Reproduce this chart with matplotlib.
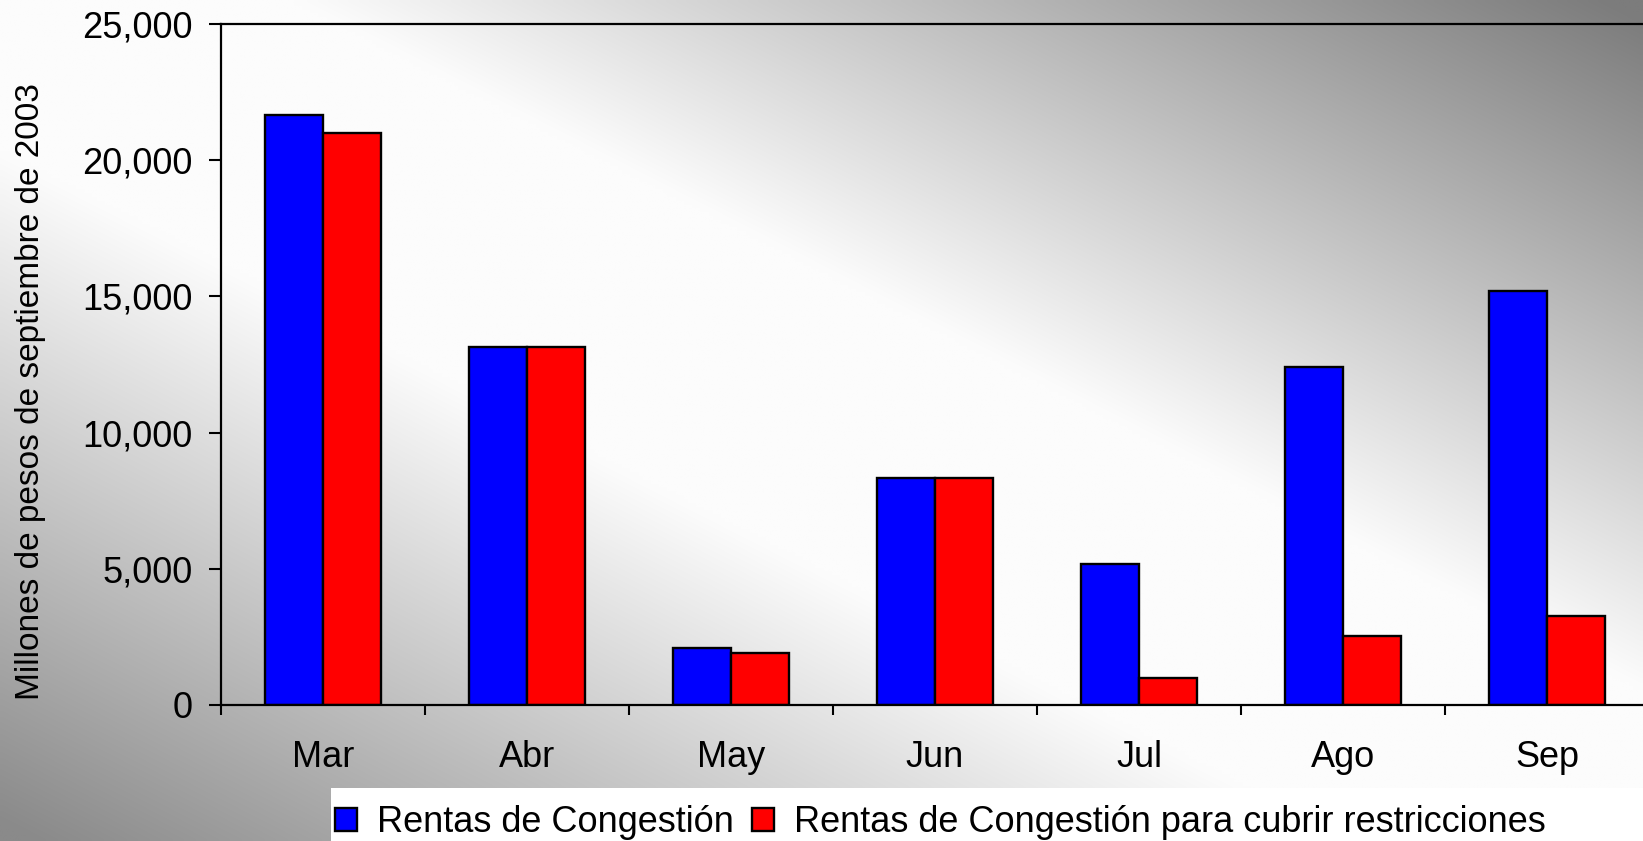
import numpy as np
import matplotlib
matplotlib.use("Agg")
import matplotlib.pyplot as plt
from matplotlib.patches import Rectangle
from matplotlib.ticker import FuncFormatter

plt.rcParams['font.family'] = ['Liberation Sans', 'DejaVu Sans']

months = ["Mar", "Abr", "May", "Jun", "Jul", "Ago", "Sep"]
rentas = [21650, 13130, 2080, 8320, 5165, 12400, 15210]
rentas_restr = [21000, 13130, 1910, 8320, 1000, 2535, 3255]
series_names = ["Rentas de Congestión",
                "Rentas de Congestión para cubrir restricciones"]
y_ticks = [0, 5000, 10000, 15000, 20000, 25000]

W, H = 1643, 841
fig = plt.figure(figsize=(W / 100, H / 100), dpi=100)

# diagonal background gradient: white along top-left -> bottom-right diagonal
bg = fig.add_axes([0, 0, 1, 1], zorder=-10)
u, v = np.meshgrid(np.linspace(0, 1, 400), np.linspace(0, 1, 220))
d = u - v
t = np.clip((np.abs(d) - 0.18) / 0.8, 0, 1)
dark = np.where(d > 0, 124, 138)
g = (252 - (252 - dark) * t) / 255.0
bg.imshow(np.dstack([g, g, g]), extent=[0, 1, 0, 1], aspect='auto',
          origin='upper', interpolation='bilinear')
bg.set_axis_off()

ax = fig.add_axes([221 / W, (H - 705) / H, 1428 / W, 681 / H])
ax.set_facecolor('none')

x = np.arange(len(months))
w = 0.285
b1 = ax.bar(x - w / 2, rentas, w, color='#0000ff', edgecolor='black',
            linewidth=1.7, label=series_names[0])
b2 = ax.bar(x + w / 2, rentas_restr, w, color='#ff0000', edgecolor='black',
            linewidth=1.7, label=series_names[1])

ax.set_xlim(-0.5, len(months) - 0.5)
ax.set_ylim(0, 25000)
ax.set_yticks(y_ticks)
ax.yaxis.set_major_formatter(FuncFormatter(lambda val, pos: f"{int(val):,}"))

ax.set_xticks(np.arange(-0.5, len(months) - 0.5, 1.0))
ax.set_xticklabels([])
ax.set_xticks(x, minor=True)
ax.set_xticklabels(months, minor=True)
ax.tick_params(axis='x', which='major', direction='out', length=7.5, width=1.5)
ax.tick_params(axis='x', which='minor', length=0, pad=25, labelsize=26)
ax.tick_params(axis='y', direction='out', length=8.5, width=1.5, pad=12,
               labelsize=26)

for side in ['left', 'bottom', 'top']:
    ax.spines[side].set_linewidth(1.6)
ax.spines['right'].set_visible(False)

fig.text(31 / W, 1 - 392 / H, "Millones de pesos de septiembre de 2003",
         rotation=90, ha='center', va='center', fontsize=24)

# legend on a white strip at the bottom
fig.patches.append(Rectangle((331 / W, 0), 1, 53 / H, transform=fig.transFigure,
                             facecolor='white', edgecolor='none', zorder=1))
leg = fig.legend(handles=[b1, b2], loc='center left',
                 bbox_to_anchor=(335 / W, 1 - 823 / H), ncol=2, frameon=False,
                 fontsize=26, handlelength=0.61, handleheight=0.61,
                 handletextpad=0.55, columnspacing=0.5, borderpad=0,
                 borderaxespad=0)
leg.set_zorder(2)

fig.savefig("out.png", dpi=100)
